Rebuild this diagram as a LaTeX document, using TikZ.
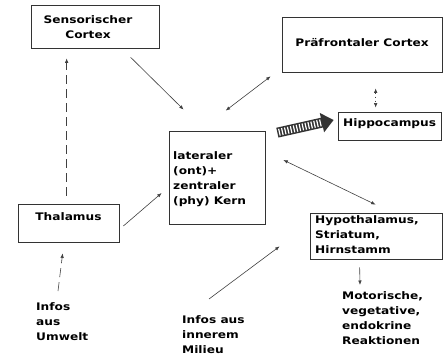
\documentclass[tikz,border=0pt]{standalone}
\usepackage{fontspec}
\setmainfont{DejaVu Sans}[FakeStretch=1.17]
\usetikzlibrary{arrows.meta}
\begin{document}
\begin{tikzpicture}[x=1pt,y=-1pt,
  lbl/.style={font=\fontsize{10.4}{15}\selectfont\bfseries, inner sep=0pt, text=black},
  box/.style={draw=black!80, line width=0.7pt, inner sep=0pt},
  link/.style={draw=black!75, line width=0.6pt},
  tip/.style={-{Latex[length=4.5pt,width=3.5pt]}},
  tips/.style={{Latex[length=4.5pt,width=3.5pt]}-{Latex[length=4.5pt,width=3.5pt]}},
  dashlink/.style={link, dash pattern=on 9pt off 5pt}]
\useasboundingbox (0,0) rectangle (443,363);

% boxes
\node[box, minimum width=128pt, minimum height=43pt] (sens) at (95,26.5) {};
\node[box, minimum width=160pt, minimum height=55pt] (pfc) at (362,44.5) {};
\node[box, minimum width=103pt, minimum height=28pt] (hip) at (389.5,126) {};
\node[box, minimum width=96pt, minimum height=93pt] (amy) at (217,177.5) {};
\node[box, minimum width=101pt, minimum height=38pt] (thal) at (68.5,223) {};
\node[box, minimum width=132pt, minimum height=46pt] (hyp) at (376,236) {};

% labels inside the boxes
\node[lbl, align=center] (sensT) at (88,27) {Sensorischer\\Cortex};
\node[lbl] (pfcT) at (362,43) {Präfrontaler Cortex};
\node[lbl, anchor=west] (hipT) at (343,124) {Hippocampus};
\node[lbl, align=left, anchor=north west] (amyT) at (173,151) {lateraler\\(ont)+\\zentraler\\(phy) Kern};
\node[lbl] (thalT) at (68.5,217) {Thalamus};
\node[lbl, align=left, anchor=north west] (hypT) at (315,215.5) {Hypothalamus,\\Striatum,\\Hirnstamm};

% free texts
\node[lbl, align=left, anchor=north west] (umw) at (36,302) {Infos\\aus\\Umwelt};
\node[lbl, align=left, anchor=north west] (mil) at (182,315) {Infos aus\\innerem\\Milieu};
\node[lbl, align=left, anchor=north west] (mot) at (342,291) {Motorische,\\vegetative,\\endokrine\\Reaktionen};

% connectors
\draw[dashlink, tip] ([xshift=49pt,yshift=8pt]thal.north west) -- ([xshift=36pt,yshift=-10pt]sens.south west);
\draw[dashlink, tip] ([xshift=22pt,yshift=11pt]umw.north west) -- ([xshift=45pt,yshift=-11pt]thal.south west);
\draw[link, tip] ([xshift=4pt,yshift=-3pt]thal.east) -- ([xshift=-7pt,yshift=-15.5pt]amy.west);
\draw[link, tip] ([xshift=100pt,yshift=-9pt]sens.south west) -- ([xshift=15pt,yshift=21pt]amy.north west);
\draw[link, tips] ([xshift=57pt,yshift=20pt]amy.north west) -- ([xshift=-11pt,yshift=-4pt]pfc.south west);
\draw[link, tips, dash pattern=on 1.5pt off 2.5pt] ([xshift=94pt,yshift=-16pt]pfc.south west) -- ([xshift=38pt,yshift=4pt]hip.north west);
\draw[link, tips] ([xshift=18pt,yshift=17.5pt]amy.east) -- ([xshift=66pt,yshift=8pt]hyp.north west);
\draw[link, tip] ([xshift=27pt,yshift=16pt]mil.north west) -- ([xshift=-30pt,yshift=13pt]hyp.south west);
\draw[link, tip] ([xshift=50pt,yshift=-8pt]hyp.south west) -- ([xshift=18pt,yshift=6pt]mot.north west);

% broad hatched arrow towards the hippocampus
\draw[line width=10pt, black!80, -{Triangle[length=12pt,width=19pt]}]
  ([xshift=12pt,yshift=-2pt]amy.north east) -- ([xshift=-4pt,yshift=6pt]hip.west);
\draw[line width=7pt, white, dash pattern=on 1.2pt off 1.8pt, shorten >=12pt, shorten <=1.5pt]
  ([xshift=12pt,yshift=-2pt]amy.north east) -- ([xshift=-4pt,yshift=6pt]hip.west);
\end{tikzpicture}
\end{document}
